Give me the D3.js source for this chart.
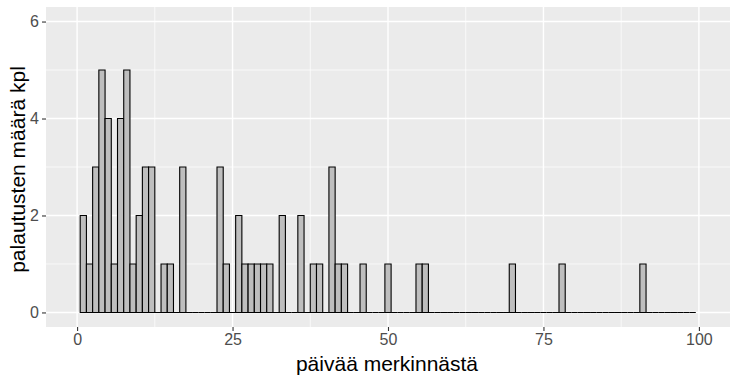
<!DOCTYPE html>
<html><head><meta charset="utf-8">
<script src="https://cdn.jsdelivr.net/npm/d3@7"></script>
<style>body{margin:0;background:#fff}svg{display:block}text{font-family:Arial,"Liberation Sans",sans-serif}</style>
</head><body><div id="chart"></div>
<script>
// days since marking (bin centres) with non-zero counts
const days   = [1,2,3,4,5,6,7,8,9,10,11,12,14,15,17,23,24,26,27,28,29,30,31,33,36,38,39,41,42,43,46,50,55,56,70,78,91];
const counts = [2,1,3,5,4,1,4,5,1,2,3,3,1,1,3,3,1,2,1,1,1,1,1,2,2,1,1,3,1,1,1,1,1,1,1,1,1];
const binFirst = 1, binLast = 99;
const xTicks = [0,25,50,75,100];
const yTicks = [0,2,4,6];
const xLabel = "päivää merkinnästä";
const yLabel = "palautusten määrä kpl";

const W = 738, H = 382;
const P = {l:46, r:730, t:7, b:327};
const svg = d3.select("#chart").append("svg").attr("width",W).attr("height",H);

const x = d3.scaleLinear().domain([-5,105]).range([P.l,P.r]);
const y = d3.scaleLinear().domain([-0.3,6.3]).range([P.b,P.t]);

svg.append("rect").attr("x",P.l).attr("y",P.t).attr("width",P.r-P.l).attr("height",P.b-P.t).attr("fill","#EBEBEB");

const g = svg.append("g");
// minor grid
const xMinor = xTicks.slice(0,-1).map((v,i)=>(v+xTicks[i+1])/2);
const yMinor = yTicks.slice(0,-1).map((v,i)=>(v+yTicks[i+1])/2);
g.selectAll(".xm").data(xMinor).join("line").attr("x1",d=>x(d)).attr("x2",d=>x(d)).attr("y1",P.t).attr("y2",P.b).attr("stroke","#fff").attr("stroke-width",0.7);
g.selectAll(".ym").data(yMinor).join("line").attr("y1",d=>y(d)).attr("y2",d=>y(d)).attr("x1",P.l).attr("x2",P.r).attr("stroke","#fff").attr("stroke-width",0.7);
g.selectAll(".xM").data(xTicks).join("line").attr("x1",d=>x(d)).attr("x2",d=>x(d)).attr("y1",P.t).attr("y2",P.b).attr("stroke","#fff").attr("stroke-width",1.4);
g.selectAll(".yM").data(yTicks).join("line").attr("y1",d=>y(d)).attr("y2",d=>y(d)).attr("x1",P.l).attr("x2",P.r).attr("stroke","#fff").attr("stroke-width",1.4);

// bins
const countMap = new Map(days.map((d,i)=>[d,counts[i]]));
const bins = d3.range(binFirst, binLast+1).map(d=>({d, c: countMap.get(d)||0}));
svg.append("g").selectAll("path").data(bins).join("path")
  .attr("d", b=>{const x0=x(b.d-0.5), x1=x(b.d+0.5), y0=y(0), y1=y(b.c);
    return `M${x0},${y0}V${y1}H${x1}V${y0}Z`;})
  .attr("fill","#BEBEBE").attr("stroke","#000").attr("stroke-width",1.1);

// axes
const xa = svg.append("g").attr("transform",`translate(0,${P.b})`)
  .call(d3.axisBottom(x).tickValues(xTicks).tickFormat(d3.format("d")).tickSize(4).tickPadding(3));
const ya = svg.append("g").attr("transform",`translate(${P.l},0)`)
  .call(d3.axisLeft(y).tickValues(yTicks).tickFormat(d3.format("d")).tickSize(4).tickPadding(3));
[xa,ya].forEach(a=>{
  a.select(".domain").remove();
  a.selectAll(".tick line").attr("stroke","#333").attr("stroke-width",1.1);
  a.selectAll(".tick text").attr("fill","#4D4D4D").style("font-size","16px").style("font-family","Arial,'Liberation Sans',sans-serif");
});

svg.append("text").attr("x",(P.l+P.r)/2 - 1).attr("y",371).attr("text-anchor","middle")
  .style("font-size","21px").attr("fill","#000").text(xLabel);
svg.append("text").attr("transform",`translate(25,169.5) rotate(-90)`).attr("text-anchor","middle")
  .style("font-size","21px").attr("fill","#000").text(yLabel);
</script></body></html>
